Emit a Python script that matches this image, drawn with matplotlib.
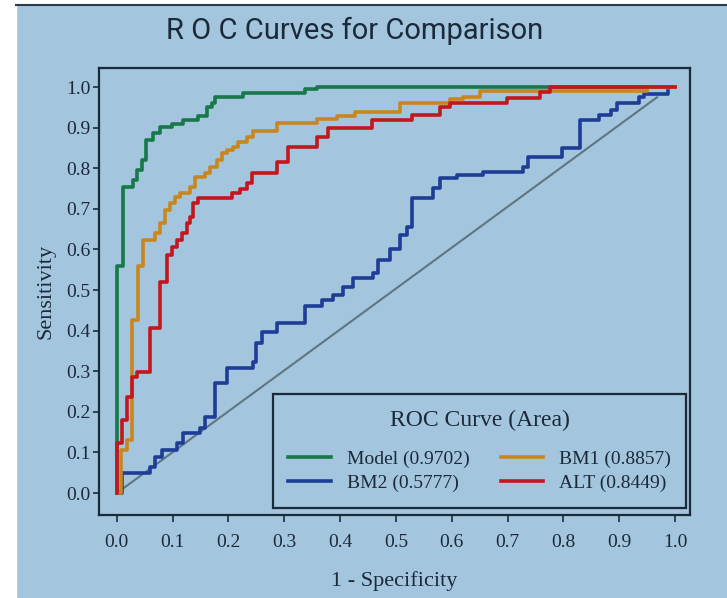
import matplotlib
matplotlib.use("Agg")
import matplotlib.pyplot as plt
from matplotlib.patches import Rectangle
from matplotlib.lines import Line2D

# ROC points (1 - specificity, sensitivity) where each curve steps up
model_fpr = [0.0, 0.0, 0.011, 0.029, 0.036, 0.045, 0.052, 0.065, 0.077, 0.098, 0.119,
             0.145, 0.161, 0.170, 0.176, 0.226, 0.337, 0.358, 1.0]
model_tpr = [0.0, 0.56, 0.754, 0.77, 0.795, 0.82, 0.87, 0.887, 0.902, 0.91, 0.92,
             0.93, 0.95, 0.96, 0.975, 0.985, 0.995, 1.0, 1.0]

bm1_fpr = [0.0, 0.007, 0.018, 0.027, 0.038, 0.047, 0.068, 0.077, 0.086, 0.095, 0.104,
           0.113, 0.131, 0.140, 0.158, 0.167, 0.179, 0.188, 0.197, 0.208, 0.217, 0.233,
           0.244, 0.287, 0.358, 0.394, 0.427, 0.507, 0.597, 0.620, 0.650, 0.950, 1.0]
bm1_tpr = [0.0, 0.106, 0.13, 0.426, 0.56, 0.623, 0.64, 0.665, 0.697, 0.714, 0.73,
           0.74, 0.754, 0.778, 0.788, 0.803, 0.82, 0.837, 0.845, 0.852, 0.865, 0.877,
           0.892, 0.912, 0.922, 0.93, 0.938, 0.96, 0.97, 0.975, 0.99, 1.0, 1.0]

bm2_fpr = [0.0, 0.009, 0.059, 0.068, 0.080, 0.108, 0.118, 0.149, 0.158, 0.176, 0.197,
           0.244, 0.250, 0.260, 0.287, 0.337, 0.367, 0.387, 0.405, 0.423, 0.459, 0.468,
           0.489, 0.507, 0.520, 0.529, 0.566, 0.579, 0.609, 0.656, 0.728, 0.737, 0.797,
           0.830, 0.864, 0.885, 0.896, 0.936, 0.945, 0.987]
bm2_tpr = [0.0, 0.049, 0.064, 0.089, 0.106, 0.123, 0.148, 0.16, 0.187, 0.27, 0.308,
           0.323, 0.369, 0.397, 0.419, 0.46, 0.475, 0.488, 0.507, 0.53, 0.542, 0.574,
           0.60, 0.635, 0.655, 0.727, 0.751, 0.776, 0.783, 0.79, 0.803, 0.828, 0.85,
           0.919, 0.931, 0.943, 0.96, 0.975, 0.983, 0.99]

alt_fpr = [0.0, 0.0, 0.009, 0.018, 0.027, 0.036, 0.059, 0.077, 0.089, 0.099, 0.108,
           0.116, 0.125, 0.131, 0.136, 0.145, 0.206, 0.220, 0.233, 0.242, 0.287, 0.306,
           0.358, 0.378, 0.457, 0.529, 0.579, 0.597, 0.699, 0.758, 0.776, 1.0]
alt_tpr = [0.0, 0.123, 0.18, 0.236, 0.286, 0.298, 0.406, 0.52, 0.586, 0.606, 0.623,
           0.64, 0.665, 0.68, 0.714, 0.727, 0.739, 0.75, 0.763, 0.788, 0.815, 0.852,
           0.877, 0.899, 0.919, 0.931, 0.95, 0.96, 0.973, 0.988, 1.0, 1.0]

ref_x = [0.0, 0.968]
ref_y = [0.0, 0.975]

labels = ["Model (0.9702)", "BM2 (0.5777)", "BM1 (0.8857)", "ALT (0.8449)"]
ticks = [0.0, 0.1, 0.2, 0.3, 0.4, 0.5, 0.6, 0.7, 0.8, 0.9, 1.0]

bg = "#a3c5dd"
ink = "#1b2a3a"
c_model = "#17784a"
c_bm1 = "#c8861c"
c_bm2 = "#1f3d96"
c_alt = "#c3161e"

serif = ["Liberation Serif", "DejaVu Serif"]

fig = plt.figure(figsize=(7.27, 5.98), dpi=100)
fig.patch.set_facecolor(bg)
# white margin on left/top and dark rule at the top, as in the screenshot
fig.add_artist(Rectangle((0, 0), 16 / 727, 1, transform=fig.transFigure, color="white", zorder=0))
fig.add_artist(Rectangle((0, 1 - 3 / 598), 1, 3 / 598, transform=fig.transFigure, color="white", zorder=0))
fig.add_artist(Line2D([16 / 727, 1], [1 - 4.5 / 598, 1 - 4.5 / 598], transform=fig.transFigure,
                      color="#2a3a4a", lw=1.5))

ax = fig.add_axes([99 / 727, 1 - 515 / 598, 591 / 727, 447 / 598])
ax.set_facecolor(bg)

ax.plot(ref_x, ref_y, color="#5f7682", lw=1.5, zorder=1)
l_model, = ax.step(model_fpr, model_tpr, where="post", color=c_model, lw=2.6)
l_bm2, = ax.step(bm2_fpr, bm2_tpr, where="post", color=c_bm2, lw=2.6)
l_bm1, = ax.step(bm1_fpr, bm1_tpr, where="post", color=c_bm1, lw=2.6)
l_alt, = ax.step(alt_fpr, alt_tpr, where="post", color=c_alt, lw=2.6)

ax.set_xlim(-0.032, 1.027)
ax.set_ylim(-0.054, 1.047)
ax.set_xticks(ticks)
ax.set_yticks(ticks)
ax.set_xticklabels([f"{t:.1f}" for t in ticks], family=serif, fontsize=14, color=ink)
ax.set_yticklabels([f"{t:.1f}" for t in ticks], family=serif, fontsize=14, color=ink)
ax.tick_params(axis="x", length=5, width=1.2, color=ink, pad=9)
ax.tick_params(axis="y", length=4, width=1.2, color=ink, pad=2)
for s in ax.spines.values():
    s.set_color(ink)
    s.set_linewidth(1.6)

ax.set_xlabel("1 - Specificity", family=serif, fontsize=16, color=ink, labelpad=14)
ax.set_ylabel("Sensitivity", family=serif, fontsize=16, color=ink, labelpad=8)

fig.text(0.488, 0.948, "R O C Curves for Comparison", ha="center", va="center",
         family=["Roboto", "DejaVu Sans"], fontsize=21, color=ink)

leg = ax.legend([l_model, l_bm2, l_bm1, l_alt], labels, ncol=2, loc="lower right",
                bbox_to_anchor=(0.994, 0.016), title="ROC Curve (Area)",
                prop={"family": serif, "size": 14}, frameon=True, fancybox=False,
                handlelength=2.2, columnspacing=1.6, borderpad=0.8, labelspacing=0.35,
                handletextpad=0.8, borderaxespad=0.0)
leg.get_title().set_family(serif)
leg.get_title().set_fontsize(17)
leg.get_title().set_color(ink)
leg._legend_box.sep = 14
fr = leg.get_frame()
fr.set_facecolor(bg)
fr.set_edgecolor(ink)
fr.set_linewidth(1.6)
fr.set_alpha(1)
for t in leg.get_texts():
    t.set_color(ink)

fig.savefig("out.png", dpi=100, facecolor=fig.get_facecolor())
